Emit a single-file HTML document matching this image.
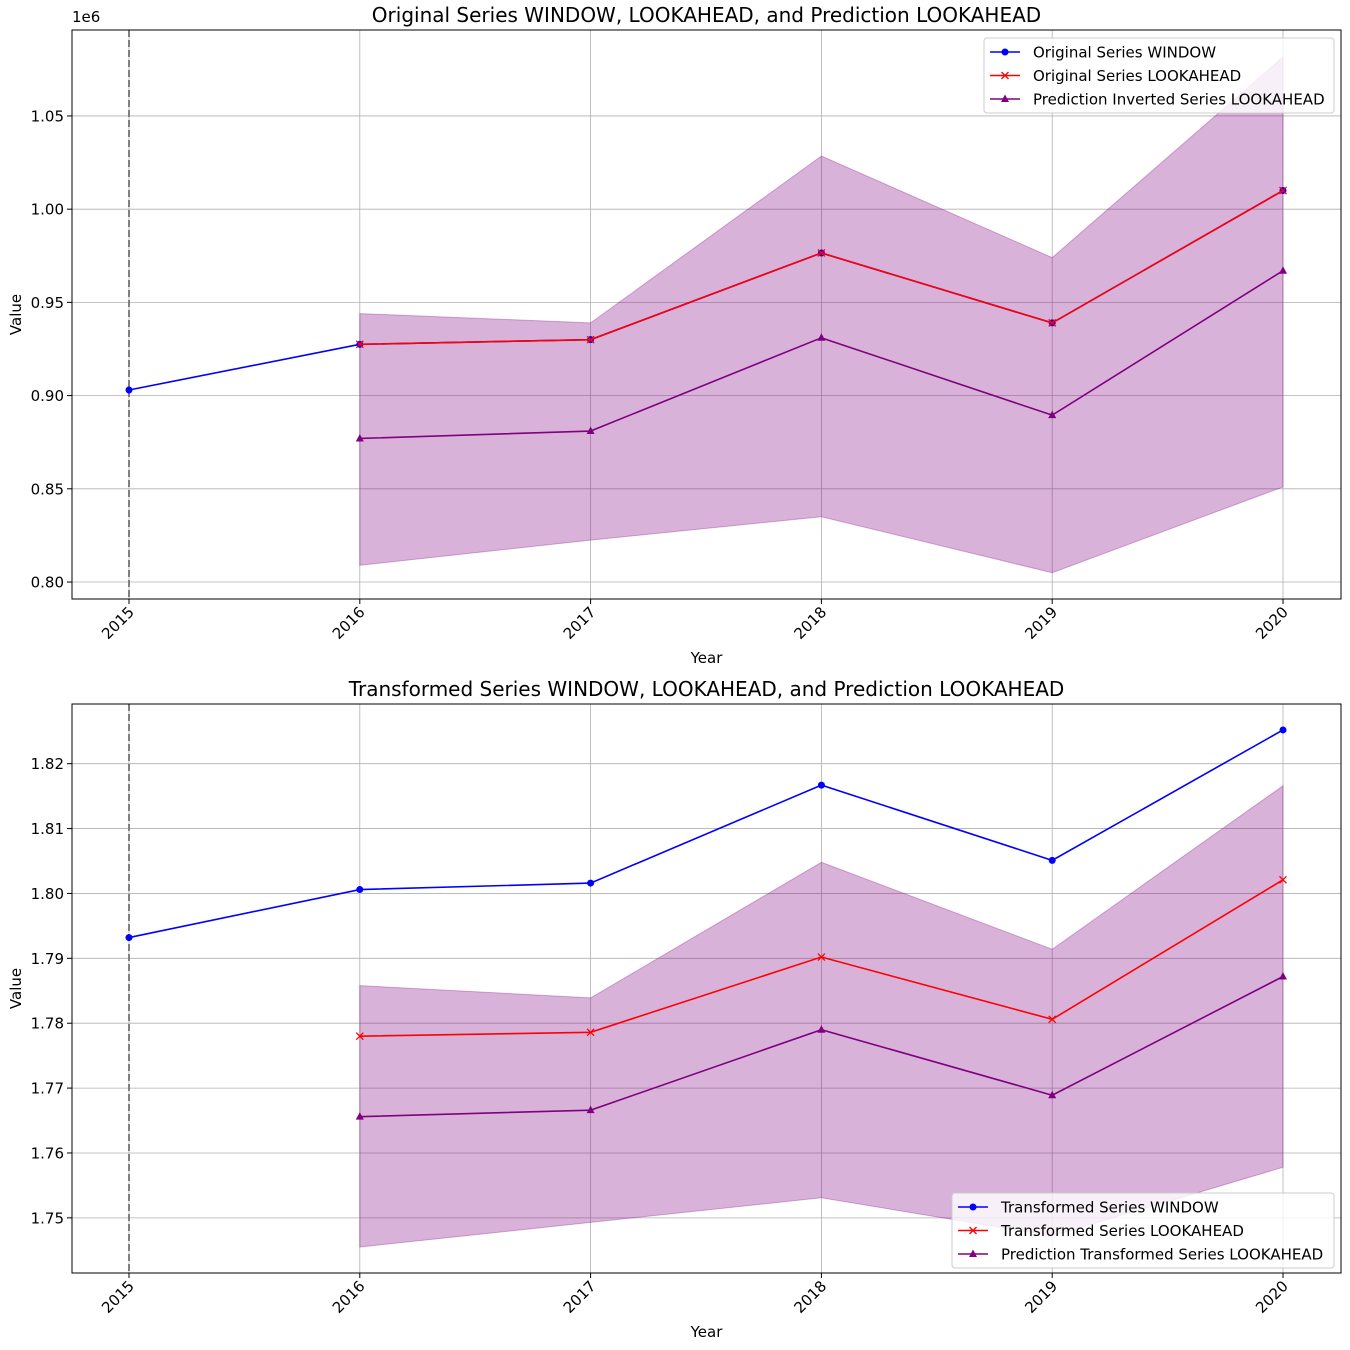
<!DOCTYPE html>
<html><head><meta charset="utf-8"><style>
html,body{margin:0;padding:0;background:#fff;}
svg{display:block;font-family:"DejaVu Sans","Liberation Sans",sans-serif;}
</style></head>
<body>
<svg id="fig" width="1350" height="1350" viewBox="0 0 1350 1350" xmlns="http://www.w3.org/2000/svg"></svg>
<script>
const years = [2015, 2016, 2017, 2018, 2019, 2020];
const lookYears = [2016, 2017, 2018, 2019, 2020];
// Top chart (values in units of 1e6)
const origWindow = [0.903, 0.9275, 0.930, 0.9765, 0.939, 1.010];
const origLook = [0.9275, 0.930, 0.9765, 0.939, 1.010];
const predInv = [0.877, 0.881, 0.931, 0.8895, 0.967];
const predInvUpper = [0.944, 0.939, 1.0285, 0.974, 1.0816];
const predInvLower = [0.809, 0.8225, 0.835, 0.805, 0.851];
const topTicks = [0.80, 0.85, 0.90, 0.95, 1.00, 1.05];
const topTickLabels = ["0.80", "0.85", "0.90", "0.95", "1.00", "1.05"];
// Bottom chart
const trWindow = [1.7932, 1.8006, 1.8016, 1.8167, 1.8051, 1.8252];
const trLook = [1.778, 1.7786, 1.7902, 1.7806, 1.8021];
const predTr = [1.7656, 1.7666, 1.779, 1.7689, 1.7872];
const predTrUpper = [1.7858, 1.7839, 1.8048, 1.7914, 1.8166];
const predTrLower = [1.7455, 1.7493, 1.7531, 1.7472, 1.7578];
const botTicks = [1.75, 1.76, 1.77, 1.78, 1.79, 1.80, 1.81, 1.82];
const botTickLabels = ["1.75", "1.76", "1.77", "1.78", "1.79", "1.80", "1.81", "1.82"];

const NS = "http://www.w3.org/2000/svg";
const fig = document.getElementById('fig');
function mk(tag, attrs, parent, text) {
  const e = document.createElementNS(NS, tag);
  for (const k in attrs) e.setAttribute(k, attrs[k]);
  if (text !== undefined) e.textContent = text;
  (parent || fig).appendChild(e);
  return e;
}

function drawPanel(cfg) {
  const L = 72, R = 1341, T = cfg.top, B = cfg.bottom;
  const g = mk('g', {});
  
  
  const xs = y => 129 + (y - 2015) * (1283 - 129) / 5;
  const ys = v => B - (v - cfg.ymin) / (cfg.ymax - cfg.ymin) * (B - T);
  years.forEach(y => {
    const l = mk('line', {x1: xs(y), x2: xs(y), y1: T, y2: B, stroke: '#b0b0b0', 'stroke-width': 0.8}, g);
    
    
  });
  cfg.ticks.forEach(v => {
    const l = mk('line', {x1: L, x2: R, y1: ys(v), y2: ys(v), stroke: '#b0b0b0', 'stroke-width': 0.8}, g);
    
    
  });
  let d = 'M' + lookYears.map((y, i) => xs(y) + ',' + ys(cfg.upper[i])).join('L');
  for (let i = lookYears.length - 1; i >= 0; i--) d += 'L' + xs(lookYears[i]) + ',' + ys(cfg.lower[i]);
  d += 'Z';
  const band = mk('path', {d: d, fill: 'purple', 'fill-opacity': 0.3, stroke: 'purple', 'stroke-opacity': 0.3, 'stroke-width': 1}, g);
  
  
  const dl = mk('line', {x1: xs(2015), x2: xs(2015), y1: T, y2: B, stroke: '#808080', 'stroke-width': 2, 'stroke-dasharray': '7,3'}, g);
  
  
  function series(xv, yv, color, marker, name) {
    const pl = mk('polyline', {points: xv.map((x, i) => xs(x) + ',' + ys(yv[i])).join(' '), fill: 'none', stroke: color, 'stroke-width': 1.6}, g);
    
    
    xv.forEach((x, i) => {
      const cx = xs(x), cy = ys(yv[i]);
      let m;
      if (marker === 'o') m = mk('circle', {cx: cx, cy: cy, r: 3.5, fill: color}, g);
      else if (marker === 'x') m = mk('path', {d: `M${cx-3.5},${cy-3.5}L${cx+3.5},${cy+3.5}M${cx-3.5},${cy+3.5}L${cx+3.5},${cy-3.5}`, stroke: color, 'stroke-width': 1.3}, g);
      else m = mk('path', {d: `M${cx},${cy-4.5}L${cx+4},${cy+3}L${cx-4},${cy+3}Z`, fill: color}, g);
      
      
    });
  }
  series(years, cfg.win, 'blue', 'o', 'window-series');
  series(lookYears, cfg.look, 'red', 'x', 'lookahead-series');
  series(lookYears, cfg.pred, 'purple', '^', 'prediction-series');
  const fr = mk('rect', {x: L, y: T, width: R - L, height: B - T, fill: 'none', stroke: '#000', 'stroke-width': 1}, g);
  
  
  years.forEach(y => {
    mk('line', {x1: xs(y), x2: xs(y), y1: B, y2: B + 5, stroke: '#000'}, g);
    const t = mk('text', {x: 0, y: 0, 'font-size': 15, 'text-anchor': 'end', transform: `translate(${xs(y)+6},${B+14}) rotate(-45)`}, g, String(y));
    
    
  });
  cfg.ticks.forEach((v, i) => {
    mk('line', {x1: L - 5, x2: L, y1: ys(v), y2: ys(v), stroke: '#000'}, g);
    const t = mk('text', {x: L - 8, y: ys(v) + 5.5, 'font-size': 15, 'text-anchor': 'end'}, g, cfg.tickLabels[i]);
    
    
  });
  const ti = mk('text', {x: (L + R) / 2, y: T - 8, 'font-size': 20, 'text-anchor': 'middle'}, g, cfg.title);
  
  
  const xl = mk('text', {x: (L + R) / 2, y: B + 64, 'font-size': 15, 'text-anchor': 'middle'}, g, 'Year');
  
  
  const yl = mk('text', {x: 0, y: 0, 'font-size': 15, 'text-anchor': 'middle', transform: `translate(21,${(T+B)/2}) rotate(-90)`}, g, 'Value');
  
  
  if (cfg.offset) {
    const o = mk('text', {x: L, y: T - 8, 'font-size': 15}, g, cfg.offset);
    
    
  }
  const lg = mk('g', {}, g);
  
  
  const lx = cfg.legendX, ly = cfg.legendY;
  mk('rect', {x: lx, y: ly, width: 1334 - lx, height: 75, rx: 3, fill: '#fff', 'fill-opacity': 0.8, stroke: '#ccc'}, lg);
  const items = [['blue', 'o'], ['red', 'x'], ['purple', '^']];
  items.forEach((it, i) => {
    const cy = ly + 14 + i * 23.5;
    mk('line', {x1: lx + 6, x2: lx + 36, y1: cy, y2: cy, stroke: it[0], 'stroke-width': 1.6}, lg);
    const cx = lx + 21;
    if (it[1] === 'o') mk('circle', {cx: cx, cy: cy, r: 3.5, fill: it[0]}, lg);
    else if (it[1] === 'x') mk('path', {d: `M${cx-3.5},${cy-3.5}L${cx+3.5},${cy+3.5}M${cx-3.5},${cy+3.5}L${cx+3.5},${cy-3.5}`, stroke: it[0], 'stroke-width': 1.3}, lg);
    else mk('path', {d: `M${cx},${cy-4.5}L${cx+4},${cy+3}L${cx-4},${cy+3}Z`, fill: it[0]}, lg);
    const t = mk('text', {x: lx + 49, y: cy + 5.5, 'font-size': 15}, lg, cfg.legend[i]);
    
    
  });
}

drawPanel({name: 'original-series-chart', top: 30, bottom: 599, ymin: 0.7909, ymax: 1.0961,
  ticks: topTicks, tickLabels: topTickLabels, win: origWindow, look: origLook, pred: predInv,
  upper: predInvUpper, lower: predInvLower, offset: '1e6',
  title: 'Original Series WINDOW, LOOKAHEAD, and Prediction LOOKAHEAD',
  legend: ['Original Series WINDOW', 'Original Series LOOKAHEAD', 'Prediction Inverted Series LOOKAHEAD'],
  legendX: 984, legendY: 38});
drawPanel({name: 'transformed-series-chart', top: 704, bottom: 1273, ymin: 1.7415, ymax: 1.8292,
  ticks: botTicks, tickLabels: botTickLabels, win: trWindow, look: trLook, pred: predTr,
  upper: predTrUpper, lower: predTrLower, offset: null,
  title: 'Transformed Series WINDOW, LOOKAHEAD, and Prediction LOOKAHEAD',
  legend: ['Transformed Series WINDOW', 'Transformed Series LOOKAHEAD', 'Prediction Transformed Series LOOKAHEAD'],
  legendX: 952, legendY: 1193});
</script>
</body></html>
